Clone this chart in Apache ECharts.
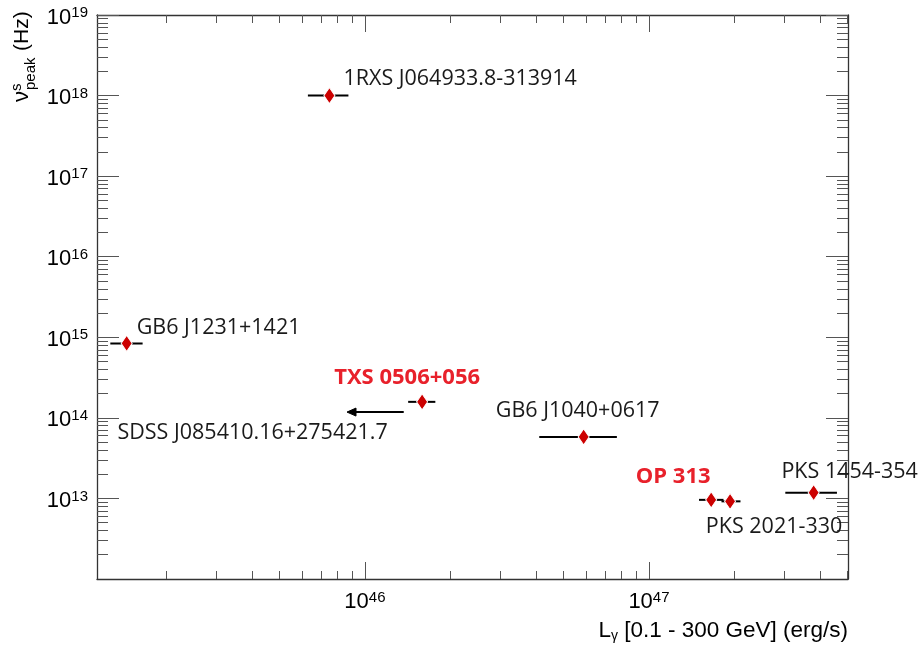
<!DOCTYPE html>
<html><head><meta charset="utf-8">
<script src="https://cdn.jsdelivr.net/npm/echarts@6/dist/echarts.min.js"></script>
<style>html,body{margin:0;padding:0;background:#fff}#c{width:920px;height:651px}</style>
</head><body><div id="c"></div>
<script>
// ---------------- data ----------------
const sourceNames = ['1RXS J064933.8-313914', 'GB6 J1231+1421', 'TXS 0506+056', 'GB6 J1040+0617', 'OP 313', 'PKS 2021-330', 'PKS 1454-354'];
const lumGamma     = [7.5e45, 1.45e45, 1.59e46, 5.89e46, 1.656e47, 1.93e47, 3.8e47];   // erg/s
const lumGammaLow  = [6.3e45, 1.27e45, 1.42e46, 4.11e46, 1.50e47, 1.80e47, 3.02e47];
const lumGammaHigh = [8.75e45, 1.65e45, 1.77e46, 7.71e46, 1.83e47, 2.10e47, 4.59e47];
const nuPeak       = [1.0e18, 8.4e14, 1.58e14, 5.8e13, 9.6e12, 9.2e12, 1.18e13];     // Hz
const upperLimitNames   = ['SDSS J085410.16+275421.7'];
const upperLimitLum     = [1.37e46];
const upperLimitArrowTo = [8.65e45];
const upperLimitNu      = [1.18e14];
const highlightedSources = ['TXS 0506+056', 'OP 313'];
const xAxisRange = [1.14e45, 5.02e47];
const yAxisRange = [1e12, 1e19];
const xMajorTicks = [1e46, 1e47];
const yMajorTicks = [1e13, 1e14, 1e15, 1e16, 1e17, 1e18, 1e19];
const xTitle = ['L', 'γ', ' [0.1 - 300 GeV] (erg/s)'];
const yTitle = ['ν', 's', 'peak', '(Hz)'];

// ---------------- styling (not data) ----------------
const labelPlace = {
  '1RXS J064933.8-313914': {dx: 14, dy: -17, align: 'left'},
  'GB6 J1231+1421': {dx: 10, dy: -16, align: 'left'},
  'TXS 0506+056': {dx: -15, dy: -24, align: 'center'},
  'GB6 J1040+0617': {dx: -6, dy: -26, align: 'center'},
  'OP 313': {dx: -38, dy: -23, align: 'center'},
  'PKS 2021-330': {dx: 44, dy: 26, align: 'center'},
  'PKS 1454-354': {dx: 36, dy: -21, align: 'center'},
  'SDSS J085410.16+275421.7': {dx: -16, dy: 21, align: 'right'}
};
const LG = Math.log10;
const TICK_FONT = 'Liberation Sans';
const ANN_FONT = '"Open Sans", "Noto Sans", sans-serif';
const RED_TEXT = '#e8212b';
const RED_MARK = '#cc0000';
const AXIS_COLOR = '#333';
const TICK_COLOR = '#555';

function minorLogTicks(lo, hi) {
  const out = [];
  for (let e = Math.floor(LG(lo)); e <= Math.ceil(LG(hi)); e++) {
    for (let k = 2; k <= 9; k++) {
      const v = k * Math.pow(10, e);
      if (v > lo && v < hi) out.push(LG(v));
    }
  }
  return out;
}
const powerRich = {
  b: {fontFamily: TICK_FONT, fontSize: 22, lineHeight: 24, color: '#000'},
  s: {fontFamily: TICK_FONT, fontSize: 15, lineHeight: 15, color: '#000', verticalAlign: 'top'}
};
const powerFmt = v => '{b|10}{s|' + Math.round(v) + '}';

function makeAxis(dim, pos, range, values, len, withLine, withLabels) {
  return {
    type: 'value', position: pos, min: LG(range[0]), max: LG(range[1]),
    splitLine: {show: false},
    axisLine: {show: withLine, onZero: false, lineStyle: {color: AXIS_COLOR, width: 1.3}},
    axisTick: {show: true, inside: true, length: len, customValues: values, lineStyle: {color: TICK_COLOR, width: 1}},
    axisLabel: withLabels ? {show: true, customValues: values, formatter: powerFmt, rich: powerRich,
      margin: dim === 'x' ? 9 : 9, padding: dim === 'y' ? [5, 0, 0, 0] : [2, 0, 0, 0]} : {show: false}
  };
}
const xMaj = xMajorTicks.map(LG), yMaj = yMajorTicks.map(LG);
const xMin = minorLogTicks(xAxisRange[0], xAxisRange[1]);
const yMin = minorLogTicks(yAxisRange[0], yAxisRange[1]);

const errData = sourceNames.map((n, i) => [LG(lumGammaLow[i]), LG(lumGammaHigh[i]), LG(nuPeak[i])]);
const ptData = sourceNames.map((n, i) => [LG(lumGamma[i]), LG(nuPeak[i])]);
const ulData = upperLimitNames.map((n, i) => [LG(upperLimitLum[i]), LG(upperLimitArrowTo[i]), LG(upperLimitNu[i])]);
const labelData = sourceNames.map((n, i) => ({name: n, value: [LG(lumGamma[i]), LG(nuPeak[i])]}))
  .concat(upperLimitNames.map((n, i) => ({name: n, value: [LG(upperLimitLum[i]), LG(upperLimitNu[i])]})));

const chart = echarts.init(document.getElementById('c'), null, {renderer: 'canvas'});
chart.setOption({
  animation: false,
  backgroundColor: '#fff',
  grid: {left: 97, top: 15, right: 72, bottom: 72, containLabel: false},
  xAxis: [
    makeAxis('x', 'bottom', xAxisRange, xMaj, 17, true, true),
    makeAxis('x', 'bottom', xAxisRange, xMin, 8, false, false),
    makeAxis('x', 'top', xAxisRange, xMaj, 17, true, false),
    makeAxis('x', 'top', xAxisRange, xMin, 8, false, false)
  ],
  yAxis: [
    makeAxis('y', 'left', yAxisRange, yMaj, 22, true, true),
    makeAxis('y', 'left', yAxisRange, yMin, 11, false, false),
    makeAxis('y', 'right', yAxisRange, yMaj, 22, true, false),
    makeAxis('y', 'right', yAxisRange, yMin, 11, false, false)
  ],
  graphic: [
    {type: 'text', right: 72, top: 619, style: {
      text: '{n|' + xTitle[0] + '}{sub|' + xTitle[1] + '}{n|' + xTitle[2] + '}',
      rich: {n: {fontFamily: TICK_FONT, fontSize: 22.5, lineHeight: 26, fill: '#000', color: '#000'},
             sub: {fontFamily: TICK_FONT, fontSize: 14, lineHeight: 14, fill: '#000', color: '#000', verticalAlign: 'bottom'}}
    }},
    {type: 'group', x: 22, y: 102, rotation: Math.PI / 2, children: [
      {type: 'text', x: 0, y: 0, style: {text: yTitle[0], font: '22px Liberation Sans', fill: '#000', verticalAlign: 'middle', align: 'left'}},
      {type: 'text', x: 11, y: -5, style: {text: yTitle[1], font: '15px Liberation Sans', fill: '#000', verticalAlign: 'middle', align: 'left'}},
      {type: 'text', x: 12, y: 9, style: {text: yTitle[2], font: '15px Liberation Sans', fill: '#000', verticalAlign: 'middle', align: 'left'}},
      {type: 'text', x: 51, y: 0, style: {text: yTitle[3], font: '21px Liberation Sans', fill: '#000', verticalAlign: 'middle', align: 'left'}}
    ]}
  ],
  series: [
    {
      type: 'custom', name: 'xerr', xAxisIndex: 0, yAxisIndex: 0, data: errData, z: 2,
      renderItem: function (params, api) {
        const y = api.value(2);
        const p1 = api.coord([api.value(0), y]);
        const p2 = api.coord([api.value(1), y]);
        return {type: 'line', shape: {x1: p1[0], y1: p1[1], x2: p2[0], y2: p2[1]},
          style: {stroke: '#000', lineWidth: 2}};
      }
    },
    {
      type: 'custom', name: 'upper limit', xAxisIndex: 0, yAxisIndex: 0, data: ulData, z: 2,
      renderItem: function (params, api) {
        const y = api.value(2);
        const p1 = api.coord([api.value(0), y]);
        const p2 = api.coord([api.value(1), y]);
        return {type: 'group', children: [
          {type: 'line', shape: {x1: p1[0], y1: p1[1], x2: p2[0] + 6, y2: p2[1]}, style: {stroke: '#000', lineWidth: 2}},
          {type: 'polygon', shape: {points: [[p2[0], p2[1]], [p2[0] + 9, p2[1] - 4], [p2[0] + 9, p2[1] + 4]]},
            style: {fill: '#000', stroke: '#000', lineWidth: 1}}
        ]};
      }
    },
    {
      type: 'scatter', name: 'sources', xAxisIndex: 0, yAxisIndex: 0, data: ptData, z: 3,
      symbol: 'diamond', symbolSize: [11, 16],
      itemStyle: {color: RED_MARK, borderColor: '#fff', borderWidth: 1, opacity: 1}
    },
    {
      type: 'custom', name: 'labels', xAxisIndex: 0, yAxisIndex: 0, data: labelData, z: 4, clip: false,
      renderItem: function (params, api) {
        const item = labelData[params.dataIndex];
        const p = api.coord([api.value(0), api.value(1)]);
        const pl = labelPlace[item.name];
        const hl = highlightedSources.indexOf(item.name) >= 0;
        return {type: 'text', x: p[0] + pl.dx, y: p[1] + pl.dy, style: {
          text: item.name, fontFamily: ANN_FONT, fontSize: hl ? 22 : 21.5, fontWeight: hl ? 'bold' : 'normal',
          fill: hl ? RED_TEXT : '#1a1a1a', align: pl.align, verticalAlign: 'middle'}};
      }
    }
  ]
});
</script>
</body></html>
